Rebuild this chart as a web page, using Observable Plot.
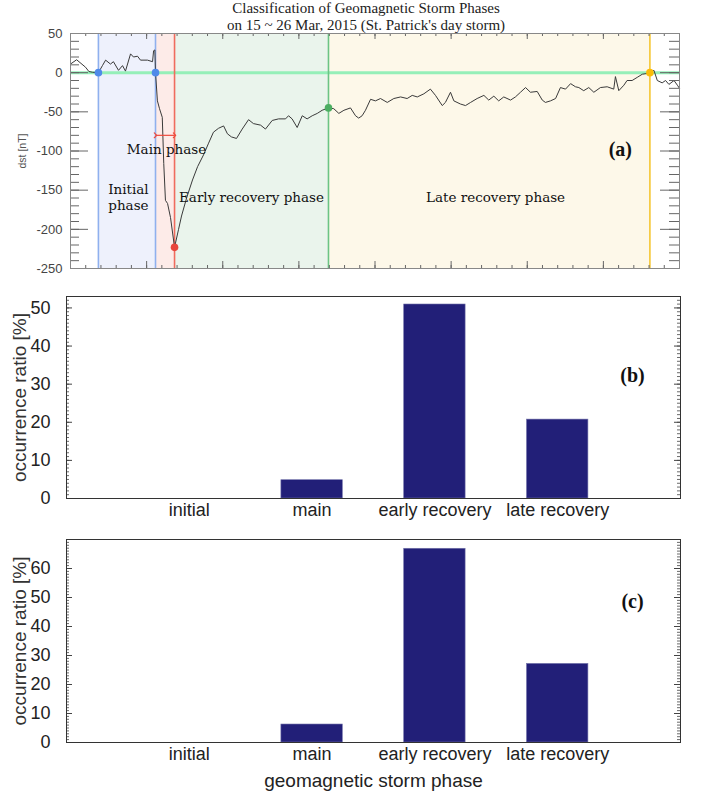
<!DOCTYPE html>
<html>
<head>
<meta charset="utf-8">
<script src="https://cdn.jsdelivr.net/npm/d3@7"></script>
<script src="https://cdn.jsdelivr.net/npm/@observablehq/plot@0.6"></script>
<style>
  html, body { margin: 0; padding: 0; background: #fff; }
  #wrap { position: relative; width: 705px; height: 798px; background: #fff; overflow: hidden; }
  .panel { position: absolute; left: 0; }
  .panel svg { display: block; }
  .title { position: absolute; left: 0; width: 732px; text-align: center; white-space: nowrap;
           font-family: "Liberation Serif", serif; font-size: 15px; line-height: 16.6px; color: #222; }
</style>
</head>
<body>
<div id="wrap">
  <div class="panel" id="pa" style="top:0px"></div>
  <div class="panel" id="pb" style="top:280px"></div>
  <div class="panel" id="pc" style="top:530px"></div>
  <div class="title" style="top:0px">Classification of Geomagnetic Storm Phases</div>
  <div class="title" style="top:16.7px">on 15 ~ 26 Mar, 2015 (St. Patrick's day storm)</div>
</div>
<script>
// ---------- Panel (a) data: Dst index, hours since start of plotted window ----------
const dstHours = [0, 2.9, 7.1, 8.7, 10.4, 13.2, 15.1, 16.6, 18.9, 20.3, 22.7, 24.6, 26, 28.4, 29.8, 31.7, 33.1, 36.4, 38.8, 39.3, 39.9, 40.2,
  41.1, 42.1, 43.4, 44.1, 44.9, 45.9, 47.3, 49.2, 51.1, 52.5, 54.9, 57.7, 60.1, 62.9, 65.3, 67.6, 70, 72.4, 74.2, 76.1, 78.5, 81.2,
  84.2, 86.5, 89.9, 92.2, 95.4, 98.4, 101.7, 103.1, 104.8, 107.2, 109.6, 111.9, 114.3, 116.7, 119, 122, 124.5, 126.9, 129.3, 132.4,
  134.8, 136.3, 137.9, 139.5, 141.9, 144.2, 146.6, 149.8, 152.9, 156.1, 159.2, 161.6, 164, 167.1, 170.2, 172.6, 175.8, 177.3, 179.7,
  181.3, 184.4, 186.8, 189.2, 192.3, 195.5, 197.8, 200.2, 202.5, 204.9, 208.1, 210.4, 212.8, 215.2, 217.5, 220.7, 223.1, 224.6, 227,
  229.4, 231.7, 234.1, 236.5, 238.8, 240.4, 242.7, 245.1, 247.5, 250.6, 253.8, 256.9, 257.7, 259.3, 261.7, 263.2, 265.6, 268, 270.4,
  272.7, 274, 275.9, 277.5, 279.8, 281.4, 283, 285.4, 287, 288];
const dstValues = [11, 16.5, 7, 1.5, 0.5, 0, 9, 16, 11, 14, 3, 9, 2, 24, 20, 21, 16, 16, 14, 28, 29, 0,
  -36, -46, -57, -116, -163, -167, -185, -223, -200, -183, -160, -137, -120, -105, -90, -76, -71, -68, -78, -82, -84, -72,
  -60, -65, -67, -72, -61, -59, -59, -55, -59, -70, -55, -59, -55, -52, -48, -45, -46, -52, -48, -45,
  -55, -58, -55, -48, -34, -36, -33, -38, -33, -31, -33, -29, -31, -27, -21, -29, -42, -38, -25,
  -36, -40, -42, -38, -33, -29, -35, -30, -36, -31, -35, -31, -25, -19, -25, -24, -35, -38, -36,
  -33, -19, -21, -14, -18, -19, -23, -19, -25, -19, -18, -21, -5, -23, -16, -10, -10, -6, -2,
  -1, 0, 3, -10, -13, -10, -15, -10, -16, -20];

const phaseLabels = ["Initial\nphase", "Main phase", "Early recovery phase", "Late recovery phase"];
const phaseStart = [13.2, 40.2, 49.2, 122];
const phaseEnd = [40.2, 49.2, 122, 274];
const phaseLabelX = [27.4, 45.4, 85.6, 201];
const phaseLabelY = [-159, -97, -159, -159];

const markerHours = [13.2, 40.2, 49.2, 122, 274];
const markerDst = [0, 0, -223, -45, 0];

const dstTicksMajor = [50, 0, -50, -100, -150, -200, -250];
const dstTicksMinor = d3.range(-250, 51, 10);
const hourTicksMajor = d3.range(0, 289, 36);
const hourTicksMinor = d3.range(0, 289, 7.2);

// ---------- Panels (b), (c) data ----------
const stormPhases = ["initial", "main", "early recovery", "late recovery"];
const ratioB = [0, 4.8, 50.9, 20.7];
const ratioC = [0, 6.2, 66.8, 27.1];
const ticksB = [0, 10, 20, 30, 40, 50];
const ticksC = [0, 10, 20, 30, 40, 50, 60];

// ---------- styles ----------
const phaseFill = ["#eef1fc", "#fdebe8", "#eaf4ec", "#fdf8e9"];
const phaseLine = ["#8fb0ee", "#8fb0ee", "#f06b5e", "#6cc484", "#f5c632"];
const markerFill = ["#4f8ae9", "#4f8ae9", "#e8453c", "#4cae62", "#fbbc0a"];
const serif = "'DejaVu Serif', serif";
const sans = "'Liberation Sans', Arial, sans-serif";

// ---------- Panel (a) ----------
{
  const W = 705, H = 280, mL = 70, mR = 26, mT = 33, mB = 12;
  const fw = W - mL - mR, fh = H - mT - mB;
  const series = dstHours.map((h, i) => ({h, v: dstValues[i]}));
  const phases = phaseStart.map((s, i) => ({s, e: phaseEnd[i], fill: phaseFill[i], label: phaseLabels[i], lx: phaseLabelX[i], ly: phaseLabelY[i]}));
  const markers = markerHours.map((h, i) => ({h, v: markerDst[i], line: phaseLine[i], fill: markerFill[i]}));
  const tickColor = "#666";
  const svg = Plot.plot({
    width: W, height: H, marginLeft: mL, marginRight: mR, marginTop: mT, marginBottom: mB,
    x: {domain: [0, 288], axis: null},
    y: {domain: [-250, 50], axis: null},
    color: {type: "identity"},
    style: {fontFamily: sans, fontSize: "13px", background: "transparent", overflow: "visible"},
    marks: [
      Plot.rect(phases, {x1: "s", x2: "e", y1: -250, y2: 50, fill: "fill"}),
      Plot.ruleY([0], {stroke: "#95efb8", strokeWidth: 3}),
      Plot.ruleX(markers, {x: "h", stroke: "line", strokeWidth: 1.6}),
      Plot.line(series, {x: "h", y: "v", stroke: "#3a3a3a", strokeWidth: 1}),
      Plot.link([{a: phaseStart[1], b: phaseEnd[1], y: -80}], {x1: "a", x2: "b", y1: "y", y2: "y", stroke: "#ee4a3c", strokeWidth: 1.2, markerStart: "arrow", markerEnd: "arrow"}),
      Plot.dot(markers, {x: "h", y: "v", fill: "fill", r: 3.8}),
      Plot.text(phases, {x: "lx", y: "ly", text: "label", fontFamily: serif, fontSize: 13.5, fill: "#111", lineHeight: 1.15}),
      Plot.text(["(a)"], {x: 260, y: -98, text: d => d, fontFamily: "'Liberation Serif', serif", fontWeight: "bold", fontSize: 20, fill: "#111"}),
      // inward ticks: left/right
      Plot.tickY(dstTicksMinor, {y: d => d, insetRight: fw - 9, stroke: tickColor}),
      Plot.tickY(dstTicksMajor, {y: d => d, insetRight: fw - 18, stroke: tickColor}),
      Plot.tickY(dstTicksMinor, {y: d => d, insetLeft: fw - 10, stroke: tickColor}),
      Plot.tickY(dstTicksMajor, {y: d => d, insetLeft: fw - 19, stroke: tickColor}),
      // inward ticks: top/bottom
      Plot.tickX(hourTicksMinor, {x: d => d, insetBottom: fh - 3, stroke: tickColor}),
      Plot.tickX(hourTicksMajor, {x: d => d, insetBottom: fh - 6, stroke: tickColor}),
      Plot.tickX(hourTicksMinor, {x: d => d, insetTop: fh - 3, stroke: tickColor}),
      Plot.tickX(hourTicksMajor, {x: d => d, insetTop: fh - 7, stroke: tickColor}),
      Plot.axisY({ticks: dstTicksMajor, tickSize: 0, tickPadding: 8, tickFormat: d => String(d), color: "#444", fontSize: 13, label: null}),
      Plot.text(["dst [nT]"], {frameAnchor: "left", textAnchor: "middle", dx: -48, rotate: -90, text: d => d, fontSize: 10.5, fill: "#555"}),
      Plot.frame({stroke: "#888"})
    ]
  });
  document.getElementById("pa").append(svg);
}

// ---------- Panels (b), (c) ----------
function barPanel(el, values, yMax, yTicks, H, mT, mB, tag, tagY, withXTitle) {
  const W = 705, mL = 66, mR = 25;
  const fw = W - mL - mR;
  const data = stormPhases.map((p, i) => ({p, v: values[i]}));
  const minor = d3.range(0, Math.floor(yMax) + 1, 1);
  const tc = "#444";
  const marks = [
    Plot.barY(data, {x: "p", y: "v", fill: "#221f78", stroke: "#7070a8", strokeWidth: 0.6}),
    Plot.tickY(minor, {y: d => d, insetRight: fw - 3, stroke: tc, strokeWidth: 0.8}),
    Plot.tickY(yTicks, {y: d => d, insetRight: fw - 6, stroke: tc}),
    Plot.tickY(minor, {y: d => d, insetLeft: fw - 3, stroke: tc, strokeWidth: 0.8}),
    Plot.tickY(yTicks, {y: d => d, insetLeft: fw - 6, stroke: tc}),
    Plot.axisY({ticks: yTicks, tickSize: 0, tickPadding: 16, color: "#222", fontSize: 18, label: null}),
    Plot.axisX({tickSize: 0, tickPadding: 5, color: "#222", fontSize: 18, label: null}),
    Plot.text(["occurrence ratio [%]"], {frameAnchor: "left", textAnchor: "middle", dx: -47, rotate: -90, text: d => d, fontSize: 19, fill: "#333"}),
    Plot.text([{t: tag, y: tagY}], {frameAnchor: "right", textAnchor: "middle", y: "y", dx: -48, text: "t", fontFamily: "'Liberation Serif', serif", fontWeight: "bold", fontSize: 20, fill: "#111"}),
    Plot.frame({stroke: "#333"})
  ];
  if (withXTitle) marks.push(Plot.text(["geomagnetic storm phase"], {frameAnchor: "bottom", textAnchor: "middle", lineAnchor: "middle", dy: 38, text: d => d, fontSize: 19, fill: "#222"}));
  const svg = Plot.plot({
    width: W, height: H, marginLeft: mL, marginRight: mR, marginTop: mT, marginBottom: mB,
    x: {type: "band", domain: stormPhases, paddingInner: 0.5, paddingOuter: 0.75, round: false, axis: null},
    y: {domain: [0, yMax], axis: null},
    style: {fontFamily: sans, fontSize: "18px", background: "transparent", overflow: "visible"},
    marks
  });
  document.getElementById(el).append(svg);
}
barPanel("pb", ratioB, 53, ticksB, 250, 16, 32, "(b)", 32.3, false);
barPanel("pc", ratioC, 70, ticksC, 268, 9, 56, "(c)", 48.6, true);
</script>
</body>
</html>
